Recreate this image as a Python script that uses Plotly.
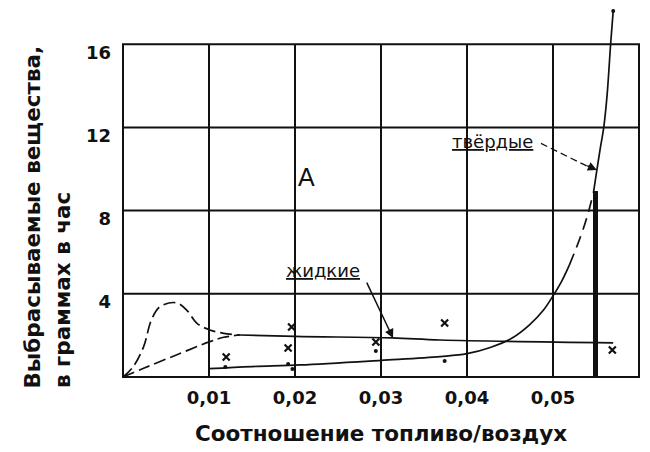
import plotly.graph_objects as go

# axis ticks
x_ticks = [0.01, 0.02, 0.03, 0.04, 0.05]
x_tick_labels = ["0,01", "0,02", "0,03", "0,04", "0,05"]
y_ticks = [4, 8, 12, 16]
x_max = 0.06

# dashed hump (upper branch near zero)
hump_x = [0.0, 0.0012, 0.0024, 0.0033, 0.0043, 0.0062, 0.0074, 0.0086, 0.0101, 0.0117, 0.0136]
hump_y = [0.0, 0.50, 1.46, 2.74, 3.38, 3.57, 3.22, 2.58, 2.26, 2.10, 2.02]

# dashed lower branch near zero
low_x = [0.0, 0.0024, 0.0062, 0.0101, 0.0117, 0.0136]
low_y = [0.0, 0.42, 1.06, 1.70, 1.91, 2.02]

# liquid emissions line
liquid_x = [0.0136, 0.0200, 0.0313, 0.0369, 0.0570]
liquid_y = [2.02, 1.95, 1.88, 1.78, 1.64]

# solid emissions curve: solid / dashed / solid parts
solid_a_x = [0.0100, 0.0150, 0.0206, 0.0300, 0.0369, 0.0400, 0.0427, 0.0452, 0.0473, 0.0489, 0.0500, 0.0510, 0.0519]
solid_a_y = [0.40, 0.50, 0.58, 0.80, 0.98, 1.12, 1.42, 1.86, 2.52, 3.22, 3.90, 4.60, 5.38]
solid_b_x = [0.0519, 0.0527, 0.0535, 0.0541, 0.0547]
solid_b_y = [5.38, 6.20, 7.10, 7.90, 8.85]
solid_c_x = [0.0547, 0.0551, 0.0555, 0.0559, 0.0563, 0.0567, 0.0570]
solid_c_y = [8.85, 9.95, 11.0, 12.0, 13.6, 16.0, 17.6]

# measured points
cross_x = [0.0120, 0.0196, 0.0192, 0.0294, 0.0374, 0.0569]
cross_y = [0.96, 2.40, 1.39, 1.68, 2.60, 1.30]
dot_x = [0.0119, 0.0192, 0.0197, 0.0294, 0.0374, 0.0570]
dot_y = [0.48, 0.62, 0.38, 1.25, 0.77, 17.6]

# vertical bar
bar_x = [0.0549]
bar_y = [8.94]

INK = "#111111"
FONT = "DejaVu Sans"

fig = go.Figure()

line_sets = [
    (hump_x, hump_y, "12px,5px"),
    (low_x, low_y, "12px,5px"),
    (liquid_x, liquid_y, "solid"),
    (solid_a_x, solid_a_y, "solid"),
    (solid_b_x, solid_b_y, "12px,7px"),
    (solid_c_x, solid_c_y, "solid"),
]
for xs, ys, dash in line_sets:
    fig.add_trace(go.Scatter(
        x=xs, y=ys, mode="lines", line_shape="spline",
        line=dict(color=INK, width=1.7, dash=dash),
        showlegend=False, hoverinfo="skip",
    ))

fig.add_trace(go.Bar(
    x=bar_x, y=bar_y, width=0.00058,
    marker=dict(color=INK, line=dict(width=0)),
    showlegend=False,
))

fig.add_trace(go.Scatter(
    x=cross_x, y=cross_y, mode="markers",
    marker=dict(symbol="x-thin", size=7, line=dict(width=2.2, color=INK)),
    showlegend=False,
))
fig.add_trace(go.Scatter(
    x=dot_x, y=dot_y, mode="markers", cliponaxis=False,
    marker=dict(symbol="circle", size=4, color=INK),
    showlegend=False,
))

# frame and grid (grid stops at 16, curve goes above it)
shapes = [dict(type="rect", xref="x", yref="y", x0=0, x1=x_max, y0=0, y1=y_ticks[-1],
               line=dict(color=INK, width=2), layer="below")]
for v in x_ticks:
    shapes.append(dict(type="line", xref="x", yref="y", x0=v, x1=v, y0=0, y1=y_ticks[-1],
                       line=dict(color=INK, width=2), layer="below"))
for h in y_ticks[:-1]:
    shapes.append(dict(type="line", xref="x", yref="y", x0=0, x1=x_max, y0=h, y1=h,
                       line=dict(color=INK, width=2), layer="below"))
# dashed leader for "твёрдые"
shapes.append(dict(type="line", xref="x", yref="y", x0=0.0486, y0=11.23, x1=0.0540, y1=10.13,
                   line=dict(color=INK, width=1.3, dash="7px,4px")))

label_font = dict(family=FONT, size=18, color=INK, lineposition="under")
annotations = [
    dict(x=0.0430, y=11.33, xref="x", yref="y", text="твёрдые", showarrow=False, font=label_font),
    dict(x=0.0233, y=5.14, xref="x", yref="y", text="жидкие", showarrow=False, font=label_font),
    dict(x=0.0213, y=9.6, xref="x", yref="y", text="A", showarrow=False,
         font=dict(family="Liberation Sans Narrow, Liberation Sans", size=25, color=INK)),
    # arrows
    dict(x=0.0314, y=1.87, xref="x", yref="y", ax=-27, ay=-57, text="", showarrow=True,
         arrowhead=2, arrowsize=1.2, arrowwidth=1.5, arrowcolor=INK),
    dict(x=0.0551, y=9.95, xref="x", yref="y", ax=-11, ay=-5, text="", showarrow=True,
         arrowhead=2, arrowsize=1.2, arrowwidth=1.5, arrowcolor=INK),
    # y title, two lines bottom-aligned
    dict(x=-0.1667, y=-0.027, xref="paper", yref="paper", xanchor="center", yanchor="bottom",
         text="<b>Выбрасываемые вещества,</b>", textangle=-90, showarrow=False,
         font=dict(family=FONT, size=21.5, color=INK)),
    dict(x=-0.1111, y=-0.027, xref="paper", yref="paper", xanchor="center", yanchor="bottom",
         text="<b>в граммах в час</b>", textangle=-90, showarrow=False,
         font=dict(family=FONT, size=21.5, color=INK)),
]

# page body adds 8px, so the figure is 8px smaller than the window
fig.update_layout(
    width=642, height=444,
    margin=dict(l=112, r=8, t=0, b=72),
    paper_bgcolor="white", plot_bgcolor="white",
    shapes=shapes, annotations=annotations,
    xaxis=dict(
        range=[-0.000349, x_max + 0.000349],
        tickvals=x_ticks, ticktext=["<b>%s</b>" % t for t in x_tick_labels],
        showgrid=False, zeroline=False, showline=False, ticks="",
        ticklabelstandoff=5,
        tickfont=dict(family=FONT, size=18, color=INK),
        title=dict(text="<b>Соотношение топливо/воздух</b>", standoff=18,
                   font=dict(family=FONT, size=21.5, color=INK)),
    ),
    yaxis=dict(
        range=[-0.144, 17.74],
        tickvals=y_ticks, ticktext=["<b>%d</b>" % t for t in y_ticks],
        showgrid=False, zeroline=False, showline=False, ticks="",
        ticklabelstandoff=8, ticklabelshift=8,
        tickfont=dict(family=FONT, size=18, color=INK),
    ),
    bargap=0,
)

fig.write_html("out.html")
